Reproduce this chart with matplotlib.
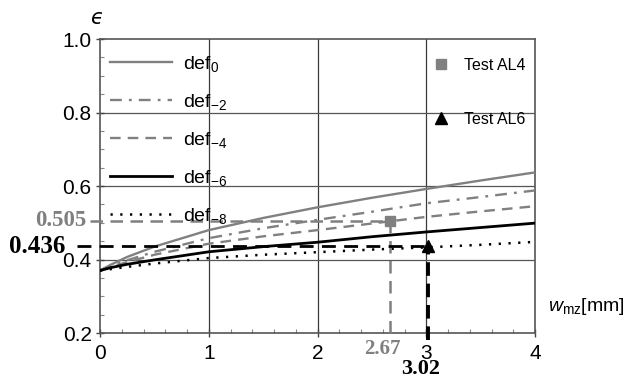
import matplotlib
matplotlib.use("Agg")
import matplotlib.pyplot as plt

plt.rcParams['font.family'] = ['Liberation Sans', 'DejaVu Sans']
plt.rcParams['mathtext.fontset'] = 'custom'
plt.rcParams['mathtext.rm'] = 'Liberation Sans'
plt.rcParams['mathtext.it'] = 'Liberation Sans:italic'
plt.rcParams['mathtext.bf'] = 'Liberation Sans:bold'

# ---- data ----
w_mz = [0, 0.1, 0.25, 0.5, 1, 1.5, 2, 2.5, 3, 3.5, 4]
def_0 = [0.370, 0.386, 0.407, 0.435, 0.480, 0.513, 0.542, 0.568, 0.592, 0.615, 0.637]
def_m2 = [0.370, 0.382, 0.398, 0.421, 0.458, 0.485, 0.508, 0.530, 0.553, 0.570, 0.588]
def_m4 = [0.370, 0.380, 0.393, 0.413, 0.443, 0.463, 0.480, 0.498, 0.516, 0.531, 0.545]
def_m6 = [0.370, 0.378, 0.387, 0.399, 0.421, 0.435, 0.447, 0.462, 0.475, 0.487, 0.499]
def_m8 = [0.370, 0.374, 0.380, 0.389, 0.404, 0.413, 0.420, 0.427, 0.433, 0.440, 0.448]
series_labels = ['def$_{0}$', 'def$_{\u22122}$', 'def$_{\u22124}$', 'def$_{\u22126}$', 'def$_{\u22128}$']

test_al4_x, test_al4_y = 2.67, 0.505
test_al6_x, test_al6_y = 3.02, 0.436
test_labels = ['Test AL4', 'Test AL6']

x_ticks = [0, 1, 2, 3, 4]
y_ticks = [0.2, 0.4, 0.6, 0.8, 1.0]
x_ticklabels = ['0', '1', '2', '3', '4']
y_ticklabels = ['0.2', '0.4', '0.6', '0.8', '1.0']

# ---- figure ----
fig = plt.figure(figsize=(6.31, 3.78), dpi=100)
ax = fig.add_axes([0.1585, 0.119, 0.6894, 0.7778])
ax.set_xlim(0, 4)
ax.set_ylim(0.2, 1.0)

gray = '#808080'
grid_c = '#3a3a3a'

# grid
for xv in x_ticks[1:-1]:
    ax.axvline(xv, color=grid_c, lw=0.9, zorder=1)
for yv in y_ticks[1:-1]:
    ax.axhline(yv, color='#555555', lw=0.9, zorder=1)

styles = [
    dict(color=gray, lw=1.7, ls='-'),
    dict(color=gray, lw=1.7, ls=(0, (5, 3, 1.2, 3))),
    dict(color=gray, lw=1.7, ls=(0, (4.5, 3))),
    dict(color='black', lw=2.0, ls='-'),
    dict(color='black', lw=1.8, ls=(0, (0.9, 3.0))),
]
series = [def_0, def_m2, def_m4, def_m6, def_m8]
handles = []
for s, st, lab in zip(series, styles, series_labels):
    h, = ax.plot(w_mz, s, label=lab, zorder=3, **st)
    handles.append(h)

# annotation lines
ax.plot([-0.09, test_al4_x], [test_al4_y, test_al4_y], color=gray, lw=1.8,
        ls=(0, (5, 3)), clip_on=False, zorder=4)
ax.plot([test_al4_x, test_al4_x], [0.2, test_al4_y], color=gray, lw=1.8,
        ls=(0, (5, 3)), clip_on=False, zorder=4)
ax.plot([-0.21, test_al6_x], [test_al6_y, test_al6_y], color='black', lw=2.0,
        ls=(0, (5, 3)), clip_on=False, zorder=4)
ax.plot([test_al6_x, test_al6_x], [0.181, test_al6_y], color='black', lw=2.8,
        ls=(0, (3.5, 2)), clip_on=False, zorder=4)

m1, = ax.plot([test_al4_x], [test_al4_y], 's', color=gray, ms=7, zorder=5, label=test_labels[0])
m2, = ax.plot([test_al6_x], [test_al6_y], '^', color='black', ms=8, zorder=5, label=test_labels[1])

# value texts
ax.text(-0.13, test_al4_y, '0.505', color=gray, fontsize=16.5, fontweight='bold',
        family='Liberation Serif', ha='right', va='center', clip_on=False)
ax.text(-0.32, test_al6_y, '0.436', color='black', fontsize=18, fontweight='bold',
        family='Liberation Serif', ha='right', va='center', clip_on=False)
ax.text(test_al4_x - 0.07, 0.156, '2.67', color=gray, fontsize=15, fontweight='bold',
        family='Liberation Serif', ha='center', va='center', clip_on=False)
ax.text(test_al6_x - 0.07, 0.103, '3.02', color='black', fontsize=16, fontweight='bold',
        family='Liberation Serif', ha='center', va='center', clip_on=False)

# legends
leg1 = ax.legend(handles=handles, loc='upper left', bbox_to_anchor=(-0.01, 1.0),
                 frameon=False, fontsize=14, handlelength=3.2, handletextpad=0.55,
                 labelspacing=0.93, borderpad=0.75, borderaxespad=0)
ax.add_artist(leg1)
leg2 = ax.legend(handles=[m1, m2], loc='upper left', bbox_to_anchor=(0.755, 0.953),
                 frameon=False, fontsize=11.5, handlelength=1.0, handletextpad=0.9,
                 labelspacing=2.45, borderpad=0.3, borderaxespad=0)

# ticks
ax.set_xticks(x_ticks)
ax.set_xticklabels(x_ticklabels)
ax.set_yticks(y_ticks)
ax.set_yticklabels(y_ticklabels)
ax.set_xticks([i * 0.2 for i in range(21)], minor=True)
ax.set_yticks([0.2 + i * 0.05 for i in range(17)], minor=True)
ax.tick_params(which='major', direction='inout', length=6, width=1.0, color='#444444',
               labelsize=15, pad=3)
ax.tick_params(axis='x', which='major', pad=5)
ax.tick_params(which='minor', direction='in', length=3, width=0.8, color='#888888')

for sp in ax.spines.values():
    sp.set_color('#555555')
    sp.set_linewidth(1.2)

# axis labels
ax.text(-0.007, 1.07, '\u03f5', fontsize=15, style='italic', ha='center', va='center',
        transform=ax.transAxes, family='DejaVu Sans')
ax.text(1.03, 0.09, r'$w_{\rm mz}$[mm]', fontsize=14, ha='left', va='center',
        transform=ax.transAxes)

fig.savefig('out.png', dpi=100)
